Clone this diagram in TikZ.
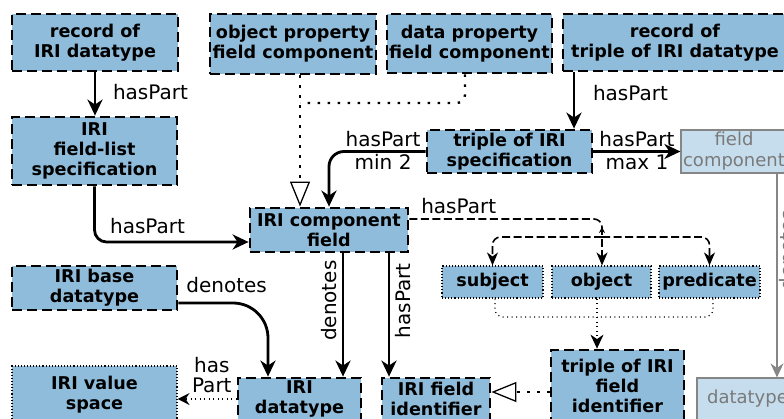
\documentclass[tikz,border=0pt]{standalone}
\usepackage{fontspec}
\setmainfont{DejaVu Sans}
\usetikzlibrary{arrows.meta}
\definecolor{boxblue}{HTML}{8FBCDA}
\definecolor{fadefill}{HTML}{C6DDED}
\definecolor{fadeline}{HTML}{868686}
\definecolor{fadetext}{HTML}{7A7A7A}
\begin{document}
\begin{tikzpicture}[x=1pt,y=-1pt,
  bluebox/.style={draw, fill=boxblue, line width=2.8pt, dash pattern=on 10pt off 5pt,
    inner sep=0pt, align=center, font=\fontsize{17.6}{20}\selectfont\bfseries},
  dotbox/.style={draw, fill=boxblue, line width=1.1pt, dash pattern=on 1.1pt off 2pt,
    inner sep=0pt, align=center, font=\fontsize{17.6}{20}\selectfont\bfseries},
  fadebox/.style={draw=fadeline, fill=fadefill, line width=1.2pt, inner sep=0pt,
    align=center, text=fadetext, font=\fontsize{18}{21}\selectfont},
  conn/.style={line width=2.8pt, -{Stealth[length=16pt,width=15pt,inset=5pt]}},
  fadeconn/.style={line width=1.5pt, draw=fadeline, -{Stealth[length=14pt,width=13pt,inset=4.5pt]}},
  dashconn/.style={line width=1.6pt, dash pattern=on 8pt off 3.5pt, rounded corners=8pt},
  dashtip/.style={-{Stealth[length=13pt,width=11pt,inset=4pt]}},
  bigdots/.style={line width=2.4pt, dash pattern=on 2.4pt off 7.6pt},
  smalldots/.style={line width=1.1pt, dash pattern=on 1.1pt off 3.4pt},
  gentip/.style={-{Triangle[open,length=25pt,width=20pt,line width=1.3pt]}},
  lbl/.style={font=\fontsize{20}{20}\selectfont, inner sep=0pt, outer sep=0pt}
]
\useasboundingbox (0,0) rectangle (784,418);

% boxes
\node[bluebox, minimum width=166pt, minimum height=57pt] (rid) at (95,42.5) {record of\\IRI datatype};
\node[bluebox, minimum width=165pt, minimum height=68pt] (fls) at (94.5,151) {IRI\\field-list\\specification};
\node[bluebox, minimum width=166pt, minimum height=60pt] (opc) at (293,44) {object property\\field component};
\node[bluebox, minimum width=165pt, minimum height=59pt] (dpc) at (469.5,43.5) {data property\\field component};
\node[bluebox, minimum width=224pt, minimum height=57pt] (rtd) at (675,42.5) {record of\\triple of IRI datatype};
\node[bluebox, minimum width=165pt, minimum height=43pt] (tis) at (509.5,151.5) {triple of IRI\\specification};
\node[fadebox, minimum width=106pt, minimum height=43pt] (fc) at (734,151.5) {field\\component};
\node[bluebox, minimum width=158pt, minimum height=44pt] (icf) at (329,230) {IRI component\\field};
\node[bluebox, minimum width=165pt, minimum height=44pt] (ibd) at (94.5,288) {IRI base\\datatype};
\node[dotbox, minimum width=165pt, minimum height=58pt] (ivs) at (94.5,395) {IRI value\\space};
\node[bluebox, minimum width=123pt, minimum height=42pt] (idt) at (299.5,399) {IRI\\datatype};
\node[bluebox, minimum width=108pt, minimum height=42pt] (ifi) at (436,399) {IRI field\\identifier};
\node[bluebox, minimum width=133pt, minimum height=72pt] (tfi) at (617.5,386) {triple of IRI\\field\\identifier};
\node[dotbox, minimum width=101pt, minimum height=32pt] (sub) at (492.5,282) {subject};
\node[dotbox, minimum width=99pt, minimum height=32pt] (obj) at (601.5,282) {object};
\node[dotbox, minimum width=101pt, minimum height=32pt] (pre) at (709.5,282) {predicate};
\node[fadebox, minimum width=101pt, minimum height=42pt] (dt) at (747.5,399) {datatype};

% helper coordinates
\coordinate (xc) at (574,0);
\coordinate (xd) at (329,0);
\coordinate (xg) at (300,0);
\coordinate (xh) at (465,0);
\coordinate (j1) at (300,103);
\coordinate (j2) at (602,227);
\coordinate (j2b) at (602,235);
\coordinate (j3) at (602,237);
\coordinate (xden) at (343,0);
\coordinate (xhp) at (389,0);
\coordinate (xbd) at (268,0);
\coordinate (yfi) at (0,392);
\coordinate (j4) at (597,317);
\coordinate (xsub) at (495,0);
\coordinate (xpre) at (713,0);
\coordinate (xfc) at (777,0);

% a
\draw[conn] (rid.south) -- (rid.south |- fls.north)
  node[lbl, pos=0.5, anchor=base west, xshift=18pt, yshift=-5pt] (la) {hasPart};
% b
\draw[conn, rounded corners=12pt] (fls.south) |- ([yshift=-12pt]icf.west)
  node[lbl, pos=0.672, anchor=base, yshift=9pt] (lb) {hasPart};
% c
\draw[conn] (rtd.south -| xc) -- (tis.north -| xc)
  node[lbl, pos=0.5, anchor=base west, xshift=19pt] (lc) {hasPart};
% d
\draw[conn, rounded corners=15pt] (tis.west) -| (icf.north -| xd)
  node[lbl, pos=0.22, anchor=base, yshift=5pt] (ld1) {hasPart}
  node[lbl, pos=0.22, anchor=base, yshift=-18pt] (ld2) {min 2};
% e
\draw[conn] (tis.east) -- (fc.west)
  node[lbl, pos=0.5, anchor=base, yshift=5pt] (le1) {hasPart}
  node[lbl, pos=0.5, anchor=base, yshift=-18pt] (le2) {max 1};
% f
\draw[bigdots, rounded corners=8pt] (dpc.south -| xh) |- (j1);
\draw[bigdots, gentip] (opc.south -| xg) -- (icf.north -| xg);
% g
\draw[dashconn] ([yshift=11pt]icf.east) -| (j2)
  node[lbl, pos=0.128, anchor=base, yshift=6pt] (lg) {hasPart};
\draw[line width=1.3pt, -{Stealth[length=6pt,width=6pt,inset=2pt]}] (j2b) -- (j2);
\draw[dashconn, dashtip] (j3) -| (sub.north);
\draw[dashconn, dashtip] (j3) -| (pre.north);
\draw[dashconn, dashtip] (j2) -- (obj.north -| j2);
% h
\draw[conn] (icf.south -| xden) -- (idt.north -| xden)
  node[lbl, pos=0.384, rotate=90, anchor=south, inner sep=6pt] (lh) {denotes};
% i
\draw[conn] (icf.south -| xhp) -- (ifi.north -| xhp)
  node[lbl, pos=0.384, rotate=90, anchor=north, inner sep=6pt] (li) {hasPart};
% j
\draw[conn, rounded corners=35pt] ([yshift=-15pt]ibd.east) -| (idt.north -| xbd)
  node[lbl, pos=0, anchor=base west, xshift=8pt, yshift=11pt] (lj) {denotes};
% k
\draw[smalldots, -{Stealth[length=12pt,width=12pt,inset=4pt]}] (idt.west) -- (idt.west -| ivs.east)
  node[lbl, pos=0.42, anchor=south, yshift=6pt, align=center] (lk) {has\\Part};
% l
\draw[bigdots, gentip] (tfi.west |- yfi) -- (ifi.east |- yfi);
% m
\draw[smalldots, rounded corners=8pt] (sub.south -| xsub) |- (j4);
\draw[smalldots, rounded corners=8pt] (pre.south -| xpre) |- (j4);
\draw[smalldots] (obj.south -| j4) -- (j4);
\draw[smalldots, -{Stealth[length=14pt,width=13pt,inset=4.5pt]}] (j4) -- (tfi.north -| j4);
% n
\draw[fadeconn] (fc.south -| xfc) -- (dt.north -| xfc)
  node[lbl, pos=0.377, rotate=90, anchor=north, inner sep=2pt, text=fadetext] (ln) {denotes};
\end{tikzpicture}
\end{document}
